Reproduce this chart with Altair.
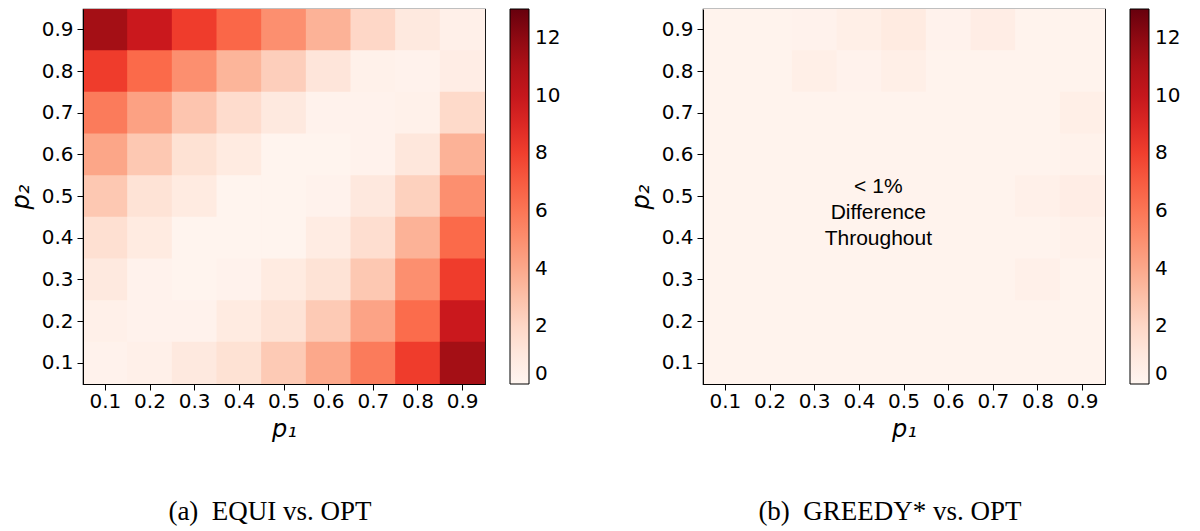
import altair as alt
import pandas as pd

p_labels = ["0.1", "0.2", "0.3", "0.4", "0.5", "0.6", "0.7", "0.8", "0.9"]

# rows: p2 from 0.9 (top) down to 0.1; columns: p1 from 0.1 to 0.9
equi_rows = {
    "0.9": [11.4, 9.8, 8.1, 6.6, 5.0, 3.6, 2.0, 0.9, 0.4],
    "0.8": [8.1, 6.5, 5.0, 3.5, 2.4, 1.2, 0.3, 0.2, 0.6],
    "0.7": [5.8, 4.3, 2.8, 1.8, 0.9, 0.2, 0.2, 0.3, 1.9],
    "0.6": [4.1, 2.7, 1.5, 0.8, 0.1, 0.1, 0.2, 1.1, 3.6],
    "0.5": [2.7, 1.4, 0.8, 0.1, 0.1, 0.2, 1.0, 2.3, 5.0],
    "0.4": [1.6, 0.8, 0.1, 0.1, 0.1, 0.7, 1.7, 3.6, 6.5],
    "0.3": [0.9, 0.2, 0.1, 0.2, 0.8, 1.4, 2.7, 5.0, 8.1],
    "0.2": [0.4, 0.2, 0.2, 0.8, 1.4, 2.6, 4.2, 6.4, 9.8],
    "0.1": [0.2, 0.4, 0.9, 1.5, 2.6, 4.0, 5.8, 8.1, 11.4],
}
greedy_rows = {
    "0.9": [0.15, 0.15, 0.2, 0.5, 0.8, 0.2, 0.6, 0.15, 0.15],
    "0.8": [0.15, 0.15, 0.5, 0.2, 0.5, 0.15, 0.15, 0.15, 0.15],
    "0.7": [0.15, 0.15, 0.15, 0.15, 0.15, 0.15, 0.15, 0.15, 0.5],
    "0.6": [0.15, 0.15, 0.15, 0.15, 0.15, 0.15, 0.15, 0.15, 0.25],
    "0.5": [0.15, 0.15, 0.15, 0.15, 0.15, 0.15, 0.15, 0.4, 0.6],
    "0.4": [0.15, 0.15, 0.15, 0.15, 0.15, 0.15, 0.15, 0.15, 0.3],
    "0.3": [0.15, 0.15, 0.15, 0.15, 0.15, 0.15, 0.15, 0.4, 0.15],
    "0.2": [0.15, 0.15, 0.15, 0.15, 0.15, 0.15, 0.15, 0.15, 0.15],
    "0.1": [0.15, 0.15, 0.15, 0.15, 0.15, 0.15, 0.15, 0.15, 0.15],
}
cbar_ticks = [0, 2, 4, 6, 8, 10, 12]
cmax = 13
reds = ["#fff5f0", "#fee0d2", "#fcbba1", "#fc9272", "#fb6a4a",
        "#ef3b2c", "#cb181d", "#a50f15", "#67000d"]
note_text = ["< 1%", "Difference", "Throughout"]


def to_df(rows):
    recs = []
    for p2, vals in rows.items():
        for p1, v in zip(p_labels, vals):
            recs.append({"p1": p1, "p2": p2, "v": v})
    return pd.DataFrame(recs)


W, H = 402, 375
tick_font = "DejaVu Sans"
stops = [cmax * i / (len(reds) - 1) for i in range(len(reds))]


def heat(df, caption):
    sc = alt.Scale(domain=stops, range=reds, interpolate="rgb", clamp=True)
    base = alt.Chart(df).mark_rect(width=W / 9 + 1, height=H / 9 + 1, clip=True).encode(
        x=alt.X("p1:O", sort=p_labels, title="p₁",
                scale=alt.Scale(paddingInner=0, paddingOuter=0),
                axis=alt.Axis(labelAngle=0)),
        y=alt.Y("p2:O", sort=list(reversed(p_labels)), title="p₂",
                scale=alt.Scale(paddingInner=0, paddingOuter=0)),
        color=alt.Color("v:Q", scale=sc,
                        legend=alt.Legend(title=None, type="gradient", values=cbar_ticks,
                                          gradientLength=H, gradientThickness=19,
                                          gradientStrokeColor="black",
                                          gradientStrokeWidth=1,
                                          labelFontSize=20, labelFont=tick_font,
                                          labelColor="black",
                                          labelOffset=6, offset=25, padding=0,
                                          labelOverlap=False, direction="vertical")),
    )
    return base.properties(
        width=W, height=H,
        title=alt.TitleParams(caption, orient="bottom", font="Liberation Serif",
                              fontSize=27, fontWeight="normal", color="black",
                              anchor="middle", frame="group", offset=58, dx=-14),
    )


left = heat(to_df(equi_rows), "(a)\u00a0\u00a0EQUI vs. OPT")

note_df = pd.DataFrame({"p1": ["0.4"], "p2": ["0.5"], "t": [note_text]})
note = alt.Chart(note_df).mark_text(
    font="Liberation Sans", fontSize=21, color="black", lineHeight=26, dx=19, dy=-10
).encode(x=alt.X("p1:O", sort=p_labels), y=alt.Y("p2:O", sort=list(reversed(p_labels))), text="t")

right = alt.layer(heat(to_df(greedy_rows), "(b)\u00a0\u00a0GREEDY* vs. OPT"), note)

chart = alt.hconcat(left, right, spacing=66).resolve_scale(
    color="independent"
).properties(
    padding={"left": 0, "top": 0, "right": 0, "bottom": 0}
).configure_view(
    stroke="black", strokeWidth=1.2
).configure_axis(
    labelFont=tick_font, labelFontSize=20, labelColor="black",
    titleFont=tick_font, titleFontSize=24, titleFontStyle="italic", titleFontWeight="normal",
    titleColor="black", domainColor="black", tickColor="black", tickSize=6,
    labelPadding=4, grid=False,
).configure_axisY(titlePadding=8).configure_axisX(titlePadding=6, labelPadding=1)

chart.save("out.html", embed_options={"renderer": "svg", "actions": False})
